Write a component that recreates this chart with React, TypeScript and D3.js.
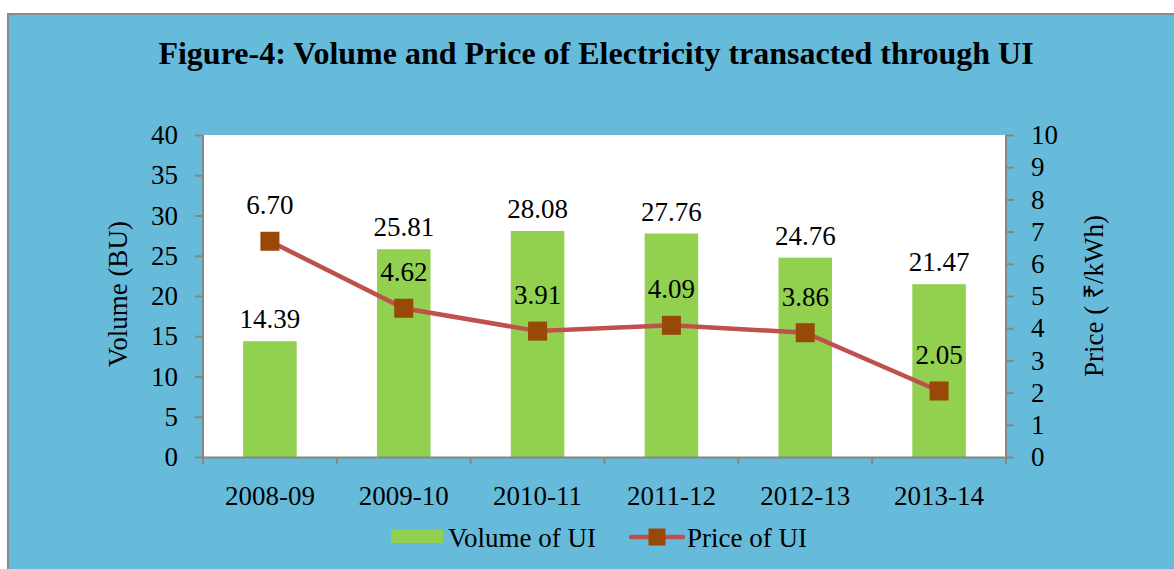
import React, { useEffect, useRef } from 'react';
import * as d3 from 'd3';

const years = ['2008-09', '2009-10', '2010-11', '2011-12', '2012-13', '2013-14'];
const volume = [14.39, 25.81, 28.08, 27.76, 24.76, 21.47];
const price = [6.7, 4.62, 3.91, 4.09, 3.86, 2.05];
const volumeTicks = [0, 5, 10, 15, 20, 25, 30, 35, 40];
const priceTicks = [0, 1, 2, 3, 4, 5, 6, 7, 8, 9, 10];

const W = 1174;
const H = 569;
const FONT = '"Liberation Serif", "Times New Roman", serif';
const AXIS = '#868686';

export default function App() {
  const svgRef = useRef<SVGSVGElement>(null);

  useEffect(() => {
    const root = d3.select(svgRef.current);
    root.selectAll('*').remove();

    const margin = { top: 135, right: 168, bottom: 112, left: 203 };
    const plotW = W - margin.left - margin.right;
    const plotH = H - margin.top - margin.bottom;

    // Outer panel
    root.append('rect')
      .attr('x', 8).attr('y', 14)
      .attr('width', W).attr('height', H)
      .attr('fill', '#66BBDB')
      .attr('stroke', '#8a8a8a')
      .attr('stroke-width', 2);

    root.append('text')
      .attr('x', 596).attr('y', 64)
      .attr('text-anchor', 'middle')
      .style('font-family', FONT)
      .style('font-size', '32px')
      .style('font-weight', 'bold')
      .text('Figure-4: Volume and Price of Electricity transacted through UI');

    const svg = root.append('g')
      .attr('transform', `translate(${margin.left},${margin.top})`);

    svg.append('rect')
      .attr('width', plotW).attr('height', plotH)
      .attr('fill', '#fff');

    const x = d3.scaleBand().domain(years).range([0, plotW]);
    const yL = d3.scaleLinear().domain([0, 40]).range([plotH, 0]);
    const yR = d3.scaleLinear().domain([0, 10]).range([plotH, 0]);
    const barW = x.bandwidth() / 2.5;
    const cx = (i: number) => x(years[i])! + x.bandwidth() / 2;

    // Bars
    svg.selectAll('.bar')
      .data(volume)
      .enter()
      .append('rect')
      .attr('x', (d, i) => cx(i) - barW / 2)
      .attr('width', barW)
      .attr('y', d => yL(d))
      .attr('height', d => plotH - yL(d))
      .attr('fill', '#92D050');

    // Axes
    const left = svg.append('g')
      .call(d3.axisLeft(yL).tickValues(volumeTicks).tickSize(8).tickPadding(17));
    const right = svg.append('g')
      .attr('transform', `translate(${plotW},0)`)
      .call(d3.axisRight(yR).tickValues(priceTicks).tickSize(8).tickPadding(17));
    const bottom = svg.append('g')
      .attr('transform', `translate(0,${plotH})`)
      .call(d3.axisBottom(x).tickSize(0));

    // Category boundary ticks on x axis
    svg.selectAll('.xtick')
      .data(d3.range(years.length + 1))
      .enter()
      .append('line')
      .attr('x1', i => i * x.step())
      .attr('x2', i => i * x.step())
      .attr('y1', plotH)
      .attr('y2', plotH + 7)
      .attr('stroke', AXIS)
      .attr('stroke-width', 2);

    [left, right, bottom].forEach(g => {
      g.selectAll('.domain').attr('stroke', AXIS).attr('stroke-width', 2);
      g.selectAll('.tick line').attr('stroke', AXIS).attr('stroke-width', 2);
      g.selectAll('.tick text')
        .attr('fill', '#000')
        .style('font-family', FONT)
        .style('font-size', '27px');
    });
    left.select('.domain').attr('d', `M0,0V${plotH}`);
    right.select('.domain').attr('d', `M0,0V${plotH}`);
    bottom.selectAll('.tick text').attr('y', 48).attr('dy', 0);

    // Price line
    const line = d3.line<number>()
      .x((d, i) => cx(i))
      .y(d => yR(d));

    svg.append('path')
      .datum(price)
      .attr('fill', 'none')
      .attr('stroke', '#C0504D')
      .attr('stroke-width', 4.5)
      .attr('d', line);

    const ms = 19;
    svg.selectAll('.mk')
      .data(price)
      .enter()
      .append('rect')
      .attr('x', (d, i) => cx(i) - ms / 2)
      .attr('y', d => yR(d) - ms / 2)
      .attr('width', ms)
      .attr('height', ms)
      .attr('fill', '#984807');

    // Data labels
    svg.selectAll('.vl')
      .data(volume)
      .enter()
      .append('text')
      .attr('x', (d, i) => cx(i))
      .attr('y', d => yL(d) - 13)
      .attr('text-anchor', 'middle')
      .style('font-family', FONT)
      .style('font-size', '27px')
      .text(d => d.toFixed(2));

    svg.selectAll('.pl')
      .data(price)
      .enter()
      .append('text')
      .attr('x', (d, i) => cx(i))
      .attr('y', d => yR(d) - 27)
      .attr('text-anchor', 'middle')
      .style('font-family', FONT)
      .style('font-size', '27px')
      .text(d => d.toFixed(2));

    // Axis titles
    root.append('text')
      .attr('transform', 'translate(127,294) rotate(-90)')
      .attr('text-anchor', 'middle')
      .style('font-family', FONT)
      .style('font-size', '27px')
      .text('Volume (BU)');

    root.append('text')
      .attr('transform', 'translate(1103,296) rotate(-90)')
      .attr('text-anchor', 'middle')
      .style('font-family', FONT)
      .style('font-size', '27px')
      .text('Price ( ₹/kWh)');

    // Legend
    const lg = root.append('g').attr('transform', 'translate(391,537)');
    lg.append('rect')
      .attr('x', 0).attr('y', -7)
      .attr('width', 52).attr('height', 13)
      .attr('fill', '#92D050');
    lg.append('text')
      .attr('x', 57).attr('y', 10)
      .style('font-family', FONT)
      .style('font-size', '27px')
      .text('Volume of UI');
    lg.append('line')
      .attr('x1', 240).attr('x2', 292)
      .attr('y1', 0).attr('y2', 0)
      .attr('stroke', '#C0504D')
      .attr('stroke-width', 4.5)
      .attr('stroke-linecap', 'round');
    lg.append('rect')
      .attr('x', 257.5).attr('y', -8.5)
      .attr('width', 17).attr('height', 17)
      .attr('fill', '#984807');
    lg.append('text')
      .attr('x', 296).attr('y', 10)
      .style('font-family', FONT)
      .style('font-size', '27px')
      .text('Price of UI');
  }, []);

  return (
    <svg
      ref={svgRef}
      width={W}
      height={H}
      style={{ display: 'block', position: 'absolute', left: 0, top: 0 }}
    />
  );
}
